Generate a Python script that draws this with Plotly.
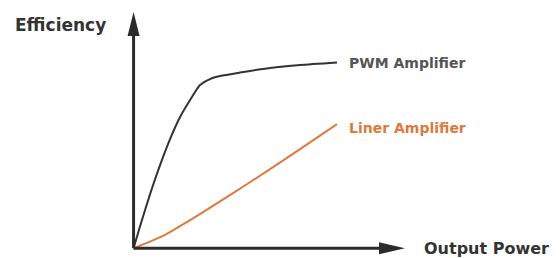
import plotly.graph_objects as go

# Data (arbitrary units: output power 0-100, efficiency 0-100)
pwm_x = [0, 2.39, 6.08, 9.76, 13.44, 17.13, 20.81, 24.49, 28.18, 31.86, 39.23, 50.28, 61.33, 74.95]
pwm_y = [0, 9.32, 22.88, 35.17, 46.19, 55.51, 62.71, 69.07, 71.61, 72.88, 74.36, 76.27, 77.54, 78.60]
lin_x = [0, 10.87, 20.81, 36.65, 49.17, 61.33, 74.95]
lin_y = [0, 5.25, 11.86, 23.31, 32.63, 41.95, 52.54]
series_names = ["PWM Amplifier", "Liner Amplifier"]
x_title = "Output Power"
y_title = "Efficiency"

dark = "#2b2b2b"
orange = "#dd7a3c"
W, H = 560, 258
L, R, T, B = 112, 163, 4, 6
XR = [-5, 100]
YR = [-5, 100]


def px_to_paper(px, py):
    # screen pixel (page has 8px body margin) -> paper coords
    fx, fy = px - 8, py - 8
    pw, ph = W - L - R, H - T - B
    return (fx - L) / pw, 1 - (fy - T) / ph


fig = go.Figure()
fig.add_trace(go.Scatter(x=pwm_x, y=pwm_y, mode="lines", name=series_names[0],
                         line=dict(color="#333333", width=2, shape="spline", smoothing=0.6)))
fig.add_trace(go.Scatter(x=lin_x, y=lin_y, mode="lines", name=series_names[1],
                         line=dict(color=orange, width=2, shape="spline", smoothing=0.6)))

# Axis lines
fig.add_shape(type="line", x0=0, y0=0, x1=95, y1=0, xref="x", yref="y",
              line=dict(color=dark, width=3))
fig.add_shape(type="line", x0=0, y0=0, x1=0, y1=94, xref="x", yref="y",
              line=dict(color=dark, width=3))
# Arrow heads
fig.add_shape(type="path", xref="x", yref="y", xsizemode="pixel", ysizemode="pixel",
              xanchor=0, yanchor=100, path="M0,0 L-6,-24 L6,-24 Z",
              fillcolor=dark, line=dict(width=0))
fig.add_shape(type="path", xref="x", yref="y", xsizemode="pixel", ysizemode="pixel",
              xanchor=100, yanchor=0, path="M0,0 L-26,6 L-26,-6 Z",
              fillcolor=dark, line=dict(width=0))

font = "DejaVu Sans"
ax_, ay_ = px_to_paper(347, 63)
fig.add_annotation(x=ax_, y=ay_, xref="paper", yref="paper", text="<b>" + series_names[0] + "</b>",
                   showarrow=False, xanchor="left", yanchor="middle",
                   font=dict(family=font, size=14, color="#555555"))
ax_, ay_ = px_to_paper(347, 128)
fig.add_annotation(x=ax_, y=ay_, xref="paper", yref="paper", text="<b>" + series_names[1] + "</b>",
                   showarrow=False, xanchor="left", yanchor="middle",
                   font=dict(family=font, size=14, color=orange))
ax_, ay_ = px_to_paper(422, 248)
fig.add_annotation(x=ax_, y=ay_, xref="paper", yref="paper", text="<b>" + x_title + "</b>",
                   showarrow=False, xanchor="left", yanchor="middle",
                   font=dict(family=font, size=16, color="#333333"))
ax_, ay_ = px_to_paper(13, 25)
fig.add_annotation(x=ax_, y=ay_, xref="paper", yref="paper", text="<b>" + y_title + "</b>",
                   showarrow=False, xanchor="left", yanchor="middle",
                   font=dict(family=font, size=17, color="#333333"))

fig.update_xaxes(range=XR, visible=False, showgrid=False, zeroline=False)
fig.update_yaxes(range=YR, visible=False, showgrid=False, zeroline=False)
fig.update_layout(width=W, height=H, showlegend=False,
                  margin=dict(l=L, r=R, t=T, b=B),
                  paper_bgcolor="white", plot_bgcolor="white")
fig.write_html("out.html")
